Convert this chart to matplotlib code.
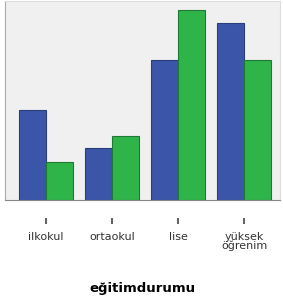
import numpy as np
import matplotlib
matplotlib.use('Agg')
import matplotlib.pyplot as plt
import matplotlib.transforms as mtransforms

categories = ['ilkokul', 'ortaokul', 'lise', 'yüksek\nöğrenim']
blue_vals = [90, 52, 141, 178]
green_vals = [38, 64, 191, 141]

fig = plt.figure(figsize=(2.83, 3.02), dpi=100)
ax = fig.add_axes([5 / 283, 102 / 302, 275 / 283, 199 / 302])
ax.set_facecolor('#f0f0f0')

x = np.arange(len(categories))
w = 0.41
ax.bar(x - w / 2, blue_vals, w, color='#3b55a8', edgecolor='#2a3f7a', linewidth=0.8)
ax.bar(x + w / 2, green_vals, w, color='#2fb44a', edgecolor='#1f7a35', linewidth=0.8)

ax.set_xlim(-0.62, 3.54)
ax.set_ylim(0, 200)
ax.set_yticks([])
ax.set_xticks(x)
ax.set_xticklabels(categories, fontsize=8, color='#333333', linespacing=0.85)
ax.tick_params(axis='x', length=0, pad=23)

# detached tick marks below the axis
trans = mtransforms.blended_transform_factory(ax.transData, ax.transAxes)
ax.vlines(x, -0.12, -0.09, color='#444444', linewidth=1.2, transform=trans, clip_on=False)

for s in ['top', 'right']:
    ax.spines[s].set_color('#dddddd')
ax.spines['left'].set_color('#aaaaaa')
ax.spines['bottom'].set_color('#888888')

ax.set_xlabel('eğitimdurumu', fontsize=9.5, fontweight='bold', labelpad=22)

fig.savefig('out.png', dpi=100)
